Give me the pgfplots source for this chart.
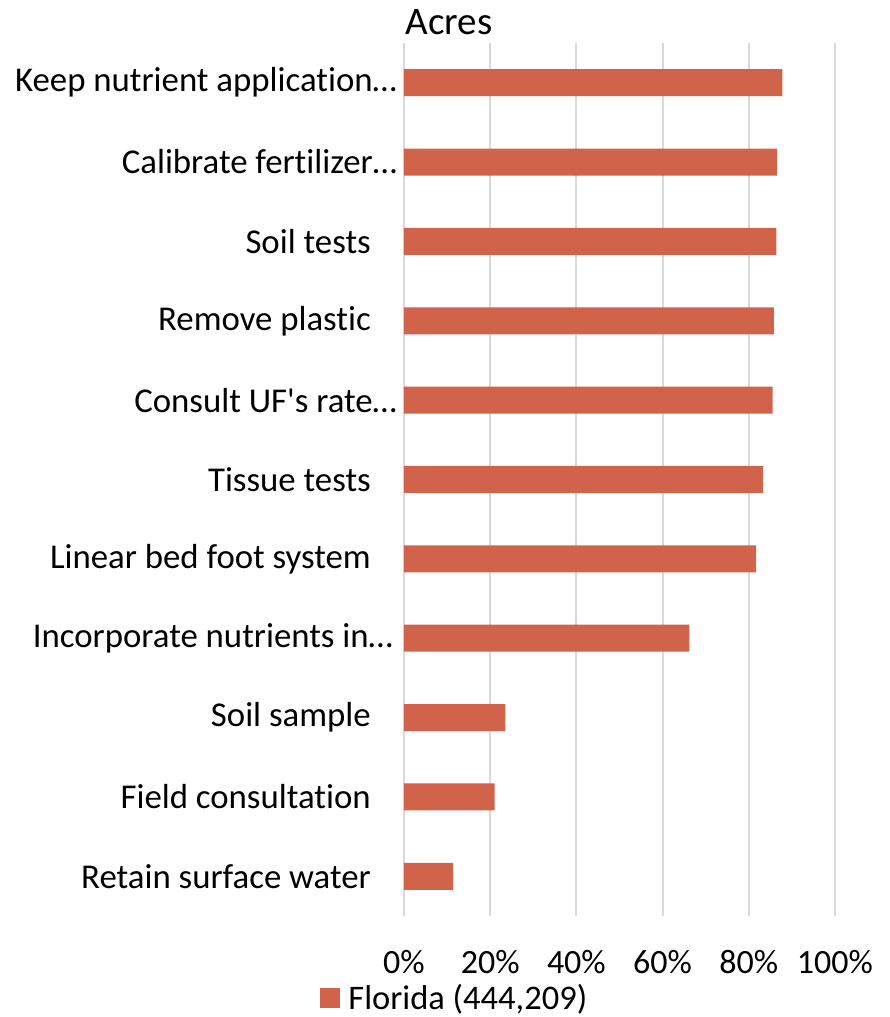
\documentclass[border=0pt]{standalone}
\usepackage{pgfplots}
\pgfplotsset{compat=1.18}
\usepackage{fontspec}
\setmainfont{Carlito}[Ligatures={TeX,NoCommon}]
\newfontfamily\plainf{Carlito}[Ligatures=NoCommon]
\definecolor{barc}{HTML}{D1634A}
\definecolor{gridc}{HTML}{D9D9D9}
\begin{document}
\begin{tikzpicture}
\begin{axis}[
  name=ax,
  scale only axis,
  width=431pt, height=873pt,
  xbar, bar width=27pt,
  xmin=0, xmax=100, ymin=-0.5, ymax=10.5,
  axis line style={draw=none},
  major tick length=0pt,
  xtick={0,20,40,60,80,100},
  xmajorgrids, grid style={gridc, line width=2pt},
  xticklabel={\pgfmathprintnumber[assume math mode=true]{\tick}\%},
  xticklabel style={font=\fontsize{34}{40}\selectfont, anchor=north, inner sep=0pt, yshift=-34pt},
  ytick={0,1,2,3,4,5,6,7,8,9,10},
  yticklabels={Retain surface water\hspace*{26pt}, Field consultation\hspace*{26pt}, Soil sample\hspace*{26pt}, Incorporate nutrients in…\hspace*{4pt}, Linear bed foot system\hspace*{26pt}, Tissue tests\hspace*{26pt}, Consult UF{\plainf'}s rate…, Remove plastic\hspace*{26pt}, Soil tests\hspace*{26pt}, Calibrate fertilizer…, Keep nutrient application…},
  yticklabel style={font=\fontsize{34.8}{40}\selectfont, anchor=east, inner sep=0pt, xshift=-7pt},
  title={Acres},
  title style={font=\fontsize{39}{44}\selectfont, at={(0.104,1)}, anchor=base, yshift=2pt, inner sep=0pt},
  legend style={at={(0.118,-0.094)}, anchor=center, draw=none, font=\fontsize{34.5}{40}\selectfont, inner sep=0pt},
  legend image code/.code={\fill[#1,draw=none] (0pt,-10pt) rectangle (20pt,10pt); \path (26pt,0pt);},
]
\addplot[fill=barc, draw=none] coordinates {
(11.4,0) (21.0,1) (23.5,2) (66.2,3) (81.7,4) (83.3,5) (85.5,6) (85.8,7) (86.4,8) (86.6,9) (87.8,10)};
\addlegendentry{Florida (444,209)}
\end{axis}
\pgfresetboundingbox
\path[use as bounding box] ([xshift=-404pt,yshift=-101pt]ax.south west) rectangle ([xshift=54pt,yshift=43pt]ax.north east);
\end{tikzpicture}
\end{document}
